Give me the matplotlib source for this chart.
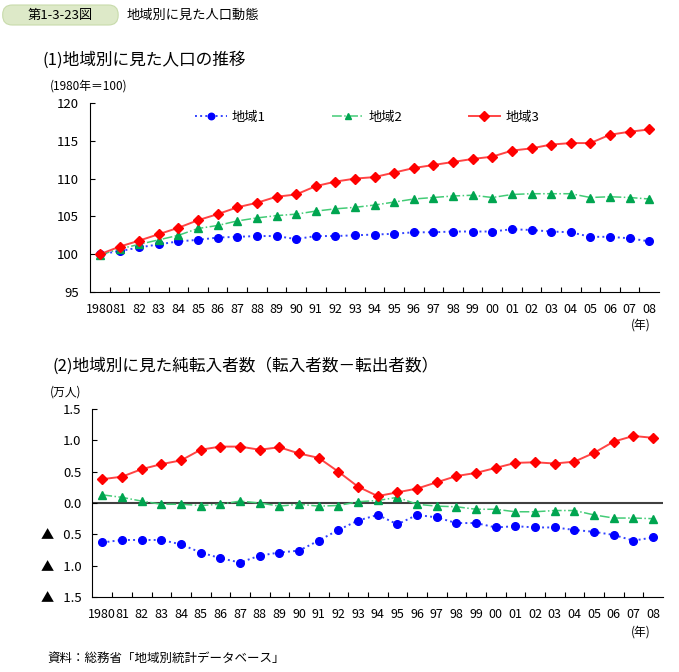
import numpy as np
import matplotlib
matplotlib.use('Agg')
import matplotlib.pyplot as plt
from matplotlib.patches import FancyBboxPatch

plt.rcParams['font.family'] = ['Noto Sans CJK JP', 'DejaVu Sans']

# データ
years = ['1980', '81', '82', '83', '84', '85', '86', '87', '88', '89', '90', '91', '92', '93',
         '94', '95', '96', '97', '98', '99', '00', '01', '02', '03', '04', '05', '06', '07', '08']

# (1) 人口の推移 (1980年=100)
pop_1 = [100.0, 100.4, 100.9, 101.3, 101.7, 101.9, 102.2, 102.3, 102.4, 102.4, 102.0, 102.4, 102.4, 102.5,
         102.6, 102.7, 102.9, 102.9, 103.0, 103.0, 103.0, 103.3, 103.2, 103.0, 102.9, 102.3, 102.3, 102.1, 101.7]
pop_2 = [99.9, 100.7, 101.3, 101.9, 102.5, 103.4, 103.8, 104.4, 104.8, 105.1, 105.3, 105.7, 106.0, 106.2,
         106.5, 106.9, 107.3, 107.5, 107.7, 107.8, 107.5, 107.9, 108.0, 108.0, 108.0, 107.5, 107.6, 107.5, 107.3]
pop_3 = [100.0, 101.0, 101.8, 102.65, 103.5, 104.5, 105.3, 106.2, 106.8, 107.6, 107.9, 109.0, 109.6, 110.0,
         110.2, 110.8, 111.4, 111.8, 112.2, 112.6, 112.9, 113.7, 114.0, 114.5, 114.7, 114.7, 115.8, 116.2, 116.5]

# (2) 純転入者数 (万人)
net_1 = [-0.63, -0.59, -0.59, -0.59, -0.66, -0.79, -0.88, -0.95, -0.84, -0.79, -0.76, -0.60, -0.43, -0.28,
         -0.19, -0.34, -0.19, -0.23, -0.32, -0.32, -0.39, -0.37, -0.39, -0.39, -0.43, -0.46, -0.51, -0.60, -0.55]
net_2 = [0.13, 0.09, 0.03, -0.02, -0.02, -0.04, -0.02, 0.03, 0.0, -0.05, -0.02, -0.05, -0.04, 0.02,
         0.04, 0.09, -0.02, -0.05, -0.06, -0.10, -0.10, -0.14, -0.14, -0.12, -0.12, -0.19, -0.24, -0.24, -0.25]
net_3 = [0.38, 0.42, 0.54, 0.62, 0.68, 0.85, 0.90, 0.90, 0.85, 0.89, 0.79, 0.72, 0.50, 0.26,
         0.11, 0.17, 0.23, 0.33, 0.43, 0.48, 0.56, 0.64, 0.65, 0.63, 0.66, 0.80, 0.98, 1.07, 1.04]

labels = ['地域1', '地域2', '地域3']

x = np.arange(len(years))

fig = plt.figure(figsize=(6.79, 6.72), dpi=100)

# ヘッダー
box = FancyBboxPatch((0.004, 1 - 25 / 672), 0.17, 20 / 672, boxstyle='round,pad=0,rounding_size=0.014',
                     transform=fig.transFigure, facecolor='#dde9c8', edgecolor='#c8dbab', lw=0.8)
fig.patches.append(box)
fig.text(0.089, 1 - 15 / 672, '第1-3-23図', ha='center', va='center', fontsize=9.5)
fig.text(127 / 679, 1 - 15 / 672, '地域別に見た人口動態', ha='left', va='center', fontsize=9.5)

fig.text(43 / 679, 1 - 60 / 672, '(1)地域別に見た人口の推移', ha='left', va='center', fontsize=12)
fig.text(50 / 679, 1 - 86 / 672, '(1980年＝100)', ha='left', va='center', fontsize=8.5)
fig.text(53 / 679, 1 - 366 / 672, '(2)地域別に見た純転入者数（転入者数－転出者数）', ha='left', va='center', fontsize=12)
fig.text(50 / 679, 1 - 392 / 672, '(万人)', ha='left', va='center', fontsize=8.5)
fig.text(47 / 679, 1 - 658 / 672, '資料：総務省「地域別統計データベース」', ha='left', va='center', fontsize=9)

styles = [
    dict(color='#3344ff', ls=':', lw=1.4, marker='o', ms=5.5, mfc='#0000ff', mec='#0000ff'),
    dict(color='#44cc77', ls='-.', lw=1.1, marker='^', ms=5.5, mfc='#00a550', mec='#00a550'),
    dict(color='#ff4444', ls='-', lw=1.4, marker='D', ms=5.5, mfc='#ff0000', mec='#ff0000'),
]


def setup_axes(ax):
    ax.spines['top'].set_visible(False)
    ax.spines['right'].set_visible(False)
    ax.set_xlim(-0.5, len(years) - 0.5)
    ax.set_xticks(x)
    ax.set_xticklabels(years, fontsize=9)
    ax.set_xticks(np.arange(0.5, len(years) - 1, 1), minor=True)
    ax.tick_params(axis='x', which='major', length=0, pad=8)
    ax.tick_params(axis='x', which='minor', direction='in', length=3.5, width=0.8)
    ax.tick_params(axis='y', direction='in', length=3.5, width=0.8, labelsize=9.5, pad=8)
    for s in ['left', 'bottom']:
        ax.spines[s].set_linewidth(0.8)


# (1)
ax1 = fig.add_axes([90.2 / 679, 1 - 292 / 672, 568.8 / 679, 189 / 672])
for vals, lab, st in zip([pop_1, pop_2, pop_3], labels, styles):
    ax1.plot(x, vals, label=lab, **st)
setup_axes(ax1)
ax1.set_ylim(95, 120)
ax1.set_yticks([95, 100, 105, 110, 115, 120])
leg = ax1.legend(ncol=3, loc='upper center', bbox_to_anchor=(0.487, 1.02), frameon=False,
                 fontsize=9.5, handlelength=2.4, columnspacing=5.0, handletextpad=0.4, markerscale=0.85)
fig.text(641 / 679, 1 - 325 / 672, '(年)', ha='center', va='center', fontsize=8.5)

# (2)
ax2 = fig.add_axes([92.5 / 679, 1 - 597 / 672, 570.4 / 679, 188 / 672])
ax2.axhline(0, color='#404040', lw=1.5, zorder=1)
for vals, lab, st in zip([net_1, net_2, net_3], labels, styles):
    ax2.plot(x, vals, label=lab, **st)
setup_axes(ax2)
ax2.set_ylim(-1.5, 1.5)
ax2.set_yticks([1.5, 1.0, 0.5, 0.0, -0.5, -1.0, -1.5])
ax2.set_yticklabels(['1.5', '1.0', '0.5', '0.0', '▲   0.5', '▲   1.0', '▲   1.5'])
fig.text(641 / 679, 1 - 632 / 672, '(年)', ha='center', va='center', fontsize=8.5)

fig.savefig('out.png', dpi=100)
